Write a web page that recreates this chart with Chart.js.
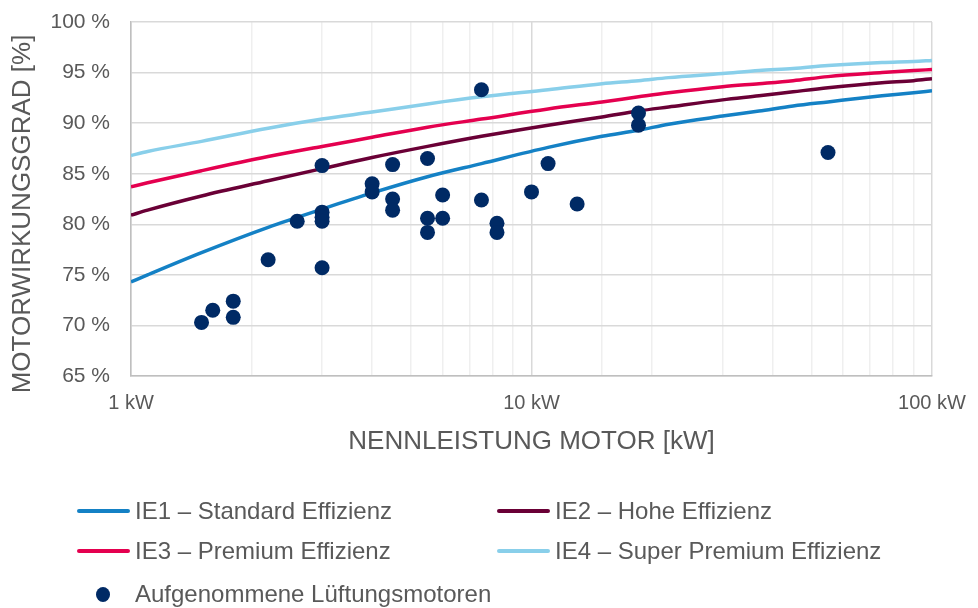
<!DOCTYPE html>
<html lang="de">
<head>
<meta charset="utf-8">
<title>Motorwirkungsgrad</title>
<script src="https://cdn.jsdelivr.net/npm/chart.js@4.4.1/dist/chart.umd.min.js"></script>
<style>
  body { margin: 0; background: #fff; }
  #wrap { position: relative; width: 978px; height: 608px; font-family: "Liberation Sans", Arial, sans-serif; color: #595959; }
  #legend .item { position: absolute; display: flex; align-items: center; font-size: 24px; white-space: nowrap; height: 30px; }
  #legend .line { width: 53px; height: 4px; border-radius: 2px; margin-right: 5px; }
  #legend .dot { width: 14px; height: 15px; border-radius: 50%; margin: 0 25px 0 19px; }
</style>
</head>
<body>
<div id="wrap">
  <canvas id="chart" width="978" height="608"></canvas>
  <div id="legend"></div>
</div>
<script>
// Normkurven IEC 60034-30 (4-polig), Stützstellen in kW
const kwSteps = [1, 1.1, 1.5, 2.2, 3, 4, 5.5, 7.5, 11, 15, 18.5, 22, 30, 37, 45, 55, 75, 90, 100];
const ie1 = [74.3, 75.0, 77.2, 79.7, 81.5, 83.1, 84.7, 86.0, 87.6, 88.7, 89.3, 89.9, 90.7, 91.2, 91.7, 92.1, 92.7, 93.0, 93.2];
const ie2 = [80.9, 81.4, 82.8, 84.3, 85.5, 86.6, 87.7, 88.7, 89.8, 90.6, 91.2, 91.6, 92.3, 92.7, 93.1, 93.5, 94.0, 94.2, 94.4];
const ie3 = [83.7, 84.1, 85.3, 86.7, 87.7, 88.6, 89.6, 90.4, 91.4, 92.1, 92.6, 93.0, 93.6, 93.9, 94.2, 94.6, 95.0, 95.2, 95.3];
const ie4 = [86.8, 87.2, 88.2, 89.5, 90.4, 91.1, 91.9, 92.6, 93.3, 93.9, 94.2, 94.5, 94.9, 95.2, 95.4, 95.7, 96.0, 96.1, 96.2];

// Aufgenommene Lüftungsmotoren
const motorKw = [1.5, 1.6, 1.8, 1.8, 2.2, 2.6, 3, 3, 3, 3, 3, 4, 4, 4.5, 4.5, 4.5, 5.5, 5.5, 5.5, 6, 6, 7.5, 7.5, 8.2, 8.2, 10, 11, 13, 18.5, 18.5, 55];
const motorEff = [70.3, 71.5, 72.4, 70.8, 76.5, 80.3, 85.8, 81.2, 80.7, 80.3, 75.7, 84.0, 83.2, 85.9, 82.5, 81.4, 86.5, 80.6, 79.2, 82.9, 80.6, 93.3, 82.4, 80.1, 79.2, 83.2, 86.0, 82.0, 91.0, 89.8, 87.1];

const xTickLabels = { 1: "1 kW", 10: "10 kW", 100: "100 kW" };
const yTitle = "MOTORWIRKUNGSGRAD [%]";
const xTitle = "NENNLEISTUNG MOTOR [kW]";

const textColor = "#595959";
const fontFamily = '"Liberation Sans", Arial, sans-serif';

function curve(label, values, color) {
    return {
        label: label,
        data: kwSteps.map((kw, i) => ({ x: kw, y: values[i] })),
        showLine: true,
        borderColor: color,
        backgroundColor: color,
        borderWidth: 3.5,
        pointRadius: 0,
        cubicInterpolationMode: "monotone",
        order: 1,
    };
}

const datasets = [
    curve("IE1 – Standard Effizienz", ie1, "#1481C5"),
    curve("IE2 – Hohe Effizienz", ie2, "#6A0036"),
    curve("IE3 – Premium Effizienz", ie3, "#E4004F"),
    curve("IE4 – Super Premium Effizienz", ie4, "#89CFEA"),
    {
        label: "Aufgenommene Lüftungsmotoren",
        data: motorKw.map((kw, i) => ({ x: kw, y: motorEff[i] })),
        showLine: false,
        backgroundColor: "#002A65",
        borderWidth: 0,
        pointRadius: 7.5,
        order: 0,
    },
];

// y-Achsentitel etwas tiefer als die Plotmitte, wie im Original
const yTitlePlugin = {
    id: "yTitle",
    afterDraw(chart) {
        const c = chart.ctx;
        c.save();
        c.translate(23, 214);
        c.rotate(-Math.PI / 2);
        c.font = "26px " + fontFamily;
        c.fillStyle = textColor;
        c.textAlign = "center";
        c.textBaseline = "middle";
        c.fillText(yTitle, 0, 0);
        c.restore();
    },
};

const chart = new Chart(document.getElementById("chart"), {
    type: "scatter",
    data: { datasets: datasets },
    options: {
        responsive: false,
        animation: false,
        devicePixelRatio: 1,
        layout: { autoPadding: false, padding: { top: 22, right: 46, left: 0, bottom: 148 } },
        plugins: { legend: { display: false }, tooltip: { enabled: false } },
        scales: {
            x: {
                type: "logarithmic",
                min: 1,
                max: 100,
                afterFit: (scale) => {
                    scale.height = 84;
                    scale.paddingLeft = 0;
                    scale.paddingRight = 0;
                },
                border: { color: "#BFBFBF", width: 1.5 },
                grid: {
                    drawTicks: false,
                    lineWidth: 1.5,
                    color: (c) => (c.tick && xTickLabels[c.tick.value] ? "#D9D9D9" : "#EFEFEF"),
                },
                ticks: {
                    autoSkip: false,
                    maxRotation: 0,
                    padding: 15,
                    color: textColor,
                    font: { family: fontFamily, size: 20 },
                    callback: (v) => xTickLabels[v] || "",
                },
                title: {
                    display: true,
                    text: xTitle,
                    color: textColor,
                    font: { family: fontFamily, size: 26 },
                    padding: { top: 0, bottom: 3 },
                },
            },
            y: {
                min: 65,
                max: 100,
                afterFit: (scale) => {
                    scale.width = 131;
                    scale.paddingTop = 0;
                    scale.paddingBottom = 0;
                },
                border: { color: "#BFBFBF", width: 1.5 },
                grid: { drawTicks: false, color: "#D9D9D9", lineWidth: 1.5 },
                ticks: {
                    stepSize: 5,
                    padding: 21,
                    color: textColor,
                    font: { family: fontFamily, size: 21 },
                    callback: (v) => v + " %",
                },
            },
        },
    },
    plugins: [yTitlePlugin],
});

// Legende in zwei Spalten unter dem Diagramm
const legendPos = [[77, 496], [497, 496], [77, 536], [497, 536], [77, 579]];
const legend = document.getElementById("legend");
chart.data.datasets.forEach((ds, i) => {
    const item = document.createElement("div");
    item.className = "item";
    item.style.left = legendPos[i][0] + "px";
    item.style.top = legendPos[i][1] + "px";
    const mark = document.createElement("span");
    if (ds.showLine) {
        mark.className = "line";
        mark.style.background = ds.borderColor;
    } else {
        mark.className = "dot";
        mark.style.background = ds.backgroundColor;
    }
    const text = document.createElement("span");
    text.textContent = ds.label;
    item.appendChild(mark);
    item.appendChild(text);
    legend.appendChild(item);
});
</script>
</body>
</html>
